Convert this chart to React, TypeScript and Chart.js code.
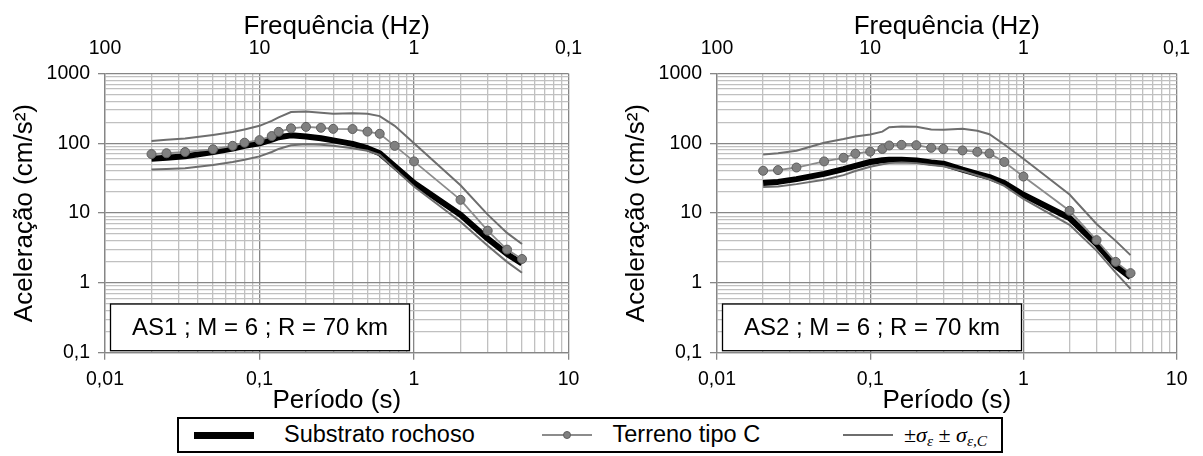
import React, { useEffect, useRef } from "react";
import { Chart, registerables } from "chart.js";

Chart.register(...registerables);

// ---------- data ----------
const PERIODS = [0.02, 0.025, 0.033, 0.05, 0.067, 0.08, 0.1, 0.12, 0.133, 0.16, 0.2, 0.25, 0.3, 0.4, 0.5, 0.6, 0.75, 1, 2, 3, 4, 5];

const AS1_ROCK = [60, 62, 65, 75, 84, 92, 100, 113, 122, 130, 125, 118, 110, 98, 85, 72, 47, 27, 9.5, 4.3, 2.6, 1.9];
const AS1_SOILC = [70, 72, 75, 82, 92, 102, 111, 127, 146, 164, 172, 167, 161, 160, 147, 137, 92, 55, 15.5, 5.6, 3.0, 2.2];
const AS1_UPPER = [108, 112, 117, 132, 145, 158, 178, 210, 235, 280, 285, 275, 265, 270, 265, 245, 178, 100, 25, 9.5, 5.2, 3.6];
const AS1_LOWER = [42, 43, 44, 49, 54, 58, 65, 75, 83, 94, 97, 95, 92, 85, 78, 68, 43, 24, 7.5, 3.4, 2.0, 1.4];

const AS2_ROCK = [27, 28, 30.7, 36.5, 42.7, 47.6, 54, 57, 58, 58, 56.8, 53, 51, 42, 36.6, 32.8, 27, 18.3, 8.5, 3.6, 1.75, 1.2];
const AS2_SOILC = [40.4, 41.3, 45, 55, 62, 71, 76, 83, 93, 95, 94, 86, 83, 79, 75.5, 71.5, 54, 33.4, 10.8, 4.1, 2.0, 1.38];
const AS2_UPPER = [69, 72, 78, 102, 115, 125, 134, 147, 170, 174, 172, 158, 156, 162, 151, 135, 96, 60, 18.5, 7, 4.0, 2.5];
const AS2_LOWER = [23.6, 24, 26, 30, 35, 40, 46, 50, 52, 53, 52, 49, 47, 40, 34.5, 30.5, 24.5, 16, 6.8, 2.9, 1.4, 0.82];

const X_DECADES = [0.01, 0.1, 1, 10];
const Y_DECADES = [0.1, 1, 10, 100, 1000];
const MANTISSAS = [1, 2, 3, 4, 5, 6, 7, 8, 9];

const LABEL_ROCK = "Substrato rochoso";
const LABEL_SOIL = "Terreno tipo C";
const TITLE_X = "Período (s)";
const TITLE_X2 = "Frequência (Hz)";
const TITLE_Y = "Aceleração (cm/s²)";
const NOTE_1 = "AS1 ; M = 6 ; R = 70 km";
const NOTE_2 = "AS2 ; M = 6 ; R = 70 km";

// ---------- helpers ----------
const FONT = '"Liberation Sans", Arial, sans-serif';
const MAJOR = "#868686";
const MINOR = "#c0c0c0";

function gridValues(decades: number[]): number[] {
  const out: number[] = [];
  for (let i = 0; i < decades.length - 1; i++) {
    for (const m of MANTISSAS) out.push(Number((m * decades[i]).toPrecision(6)));
  }
  out.push(decades[decades.length - 1]);
  return out;
}
const X_GRID = gridValues(X_DECADES);
const Y_GRID = gridValues(Y_DECADES);

function isDecade(v: number): boolean {
  if (!(v > 0)) return false;
  const l = Math.log10(v);
  return Math.abs(l - Math.round(l)) < 1e-6;
}
function fmt(v: number): string {
  if (v >= 1) return String(Math.round(v));
  return String(Number(v.toPrecision(3))).replace(".", ",");
}

const CANVAS_H = 416;
const PLOT_TOP = 73.5;
const PLOT_BOTTOM = 352.7;
const Y_AXIS_W = 105;
const PLOT_W = 463.5;

const notePlugin = {
  id: "note",
  afterDatasetsDraw(chart: any, _args: any, opts: any) {
    const { ctx, chartArea } = chart;
    const x = chartArea.left + 5.5;
    const y = chartArea.bottom - 48.7;
    const w = 299;
    const h = 46.7;
    ctx.save();
    ctx.fillStyle = "#ffffff";
    ctx.fillRect(x, y, w, h);
    ctx.strokeStyle = "#000000";
    ctx.lineWidth = 1.3;
    ctx.strokeRect(x, y, w, h);
    ctx.fillStyle = "#000000";
    ctx.font = `24px ${FONT}`;
    ctx.textAlign = "center";
    ctx.textBaseline = "middle";
    ctx.fillText(opts.text, x + w / 2, y + h / 2 + 1.5);
    ctx.restore();
  },
};

function pts(vals: number[]) {
  return PERIODS.map((p, i) => ({ x: p, y: vals[i] }));
}

const gridColor = (ctx: any) => (ctx && ctx.tick && isDecade(ctx.tick.value) ? MAJOR : MINOR);
const tickColor = (ctx: any) => (ctx && ctx.tick && isDecade(ctx.tick.value) ? MAJOR : "rgba(0,0,0,0)");

type Props = {
  left: number;
  width: number;
  note: string;
  rock: number[];
  soil: number[];
  upper: number[];
  lower: number[];
};

function SpectrumChart({ left, width, note, rock, soil, upper, lower }: Props) {
  const ref = useRef<HTMLCanvasElement>(null);
  useEffect(() => {
    const canvas = ref.current;
    if (!canvas) return;
    const chart = new Chart(canvas, {
      type: "line",
      data: {
        datasets: [
          {
            label: LABEL_SOIL,
            data: pts(soil),
            borderColor: "#8c8c8c",
            borderWidth: 1.8,
            pointRadius: 4.5,
            pointBackgroundColor: "#808080",
            pointBorderColor: "#5e5e5e",
            pointBorderWidth: 1,
            tension: 0,
            order: 0,
          },
          {
            label: "upper",
            data: pts(upper),
            borderColor: "#6e6e6e",
            borderWidth: 2,
            pointRadius: 0,
            tension: 0,
            order: 1,
          },
          {
            label: "lower",
            data: pts(lower),
            borderColor: "#6e6e6e",
            borderWidth: 2,
            pointRadius: 0,
            tension: 0,
            order: 2,
          },
          {
            label: LABEL_ROCK,
            data: pts(rock),
            borderColor: "#000000",
            borderWidth: 6,
            borderJoinStyle: "round",
            pointRadius: 0,
            tension: 0,
            order: 3,
          },
        ],
      },
      options: {
        responsive: false,
        animation: false,
        devicePixelRatio: 1,
        layout: { padding: { left: 0, top: 0, bottom: 0, right: width - Y_AXIS_W - PLOT_W } },
        plugins: {
          legend: { display: false },
          tooltip: { enabled: false },
          note: { text: note },
        } as any,
        scales: {
          x: {
            type: "logarithmic",
            position: "bottom",
            min: 0.01,
            max: 10,
            afterBuildTicks: (s: any) => {
              s.ticks = X_GRID.map((v) => ({ value: v }));
            },
            afterFit: (s: any) => {
              s.height = CANVAS_H - PLOT_BOTTOM;
            },
            ticks: {
              autoSkip: false,
              maxRotation: 0,
              minRotation: 0,
              padding: 8.6,
              color: "#000",
              font: { family: FONT, size: 19.5 },
              callback: (v: any) => (isDecade(Number(v)) ? fmt(Number(v)) : ""),
            },
            grid: { color: gridColor, tickColor: tickColor, lineWidth: 1.3, tickLength: 7, drawTicks: true },
            border: { display: true, color: MAJOR, width: 1.3 },
            title: {
              display: true,
              text: TITLE_X,
              color: "#000",
              font: { family: FONT, size: 26 },
              padding: { top: 0, bottom: 0 },
            },
          },
          x2: {
            type: "logarithmic",
            position: "top",
            min: 0.01,
            max: 10,
            afterBuildTicks: (s: any) => {
              s.ticks = X_DECADES.map((v) => ({ value: v }));
            },
            afterFit: (s: any) => {
              s.height = PLOT_TOP;
            },
            ticks: {
              autoSkip: false,
              maxRotation: 0,
              minRotation: 0,
              padding: 12.8,
              color: "#000",
              font: { family: FONT, size: 19.5 },
              callback: (v: any) => fmt(1 / Number(v)),
            },
            grid: { display: false, drawOnChartArea: false, drawTicks: false, tickLength: 0 },
            border: { display: false },
            title: {
              display: true,
              text: TITLE_X2,
              color: "#000",
              font: { family: FONT, size: 26 },
              padding: { top: 10.8, bottom: 0 },
            },
          },
          y: {
            type: "logarithmic",
            position: "left",
            min: 0.1,
            max: 1000,
            afterBuildTicks: (s: any) => {
              s.ticks = Y_GRID.map((v) => ({ value: v }));
            },
            afterFit: (s: any) => {
              s.width = Y_AXIS_W;
            },
            ticks: {
              autoSkip: false,
              padding: 8,
              color: "#000",
              font: { family: FONT, size: 19.5 },
              callback: (v: any) => (isDecade(Number(v)) ? fmt(Number(v)) : ""),
            },
            grid: { color: gridColor, tickColor: tickColor, lineWidth: 1.3, tickLength: 7, drawTicks: true },
            border: { display: true, color: MAJOR, width: 1.3 },
            title: {
              display: true,
              text: TITLE_Y,
              color: "#000",
              font: { family: FONT, size: 26 },
              padding: { top: 9, bottom: 0 },
            },
          },
        } as any,
      },
      plugins: [notePlugin as any],
    } as any);
    return () => chart.destroy();
  }, []);
  return (
    <canvas
      ref={ref}
      width={width}
      height={CANVAS_H}
      style={{ position: "absolute", left, top: 0, width, height: CANVAS_H }}
    />
  );
}

const LEG_TOP = 417;
const LEG_H = 36;

function LegendItem({ left, children }: { left: number; children: React.ReactNode }) {
  return (
    <div
      style={{
        position: "absolute",
        left,
        top: LEG_TOP,
        height: LEG_H,
        display: "flex",
        alignItems: "center",
        whiteSpace: "nowrap",
      }}
    >
      {children}
    </div>
  );
}

export default function App() {
  const txt: React.CSSProperties = { fontFamily: FONT, fontSize: 23.5, color: "#000", lineHeight: 1 };
  const serif: React.CSSProperties = {
    fontFamily: '"Liberation Serif", "DejaVu Serif", serif',
    fontSize: 22,
    color: "#000",
    lineHeight: 1,
  };
  const sub: React.CSSProperties = { fontSize: "0.7em", position: "relative", top: 4, lineHeight: 1 };
  return (
    <div style={{ position: "absolute", left: 0, top: 0, width: 1203, height: 456, background: "#fff", overflow: "hidden" }}>
      <SpectrumChart left={0} width={600} note={NOTE_1} rock={AS1_ROCK} soil={AS1_SOILC} upper={AS1_UPPER} lower={AS1_LOWER} />
      <SpectrumChart left={612} width={591} note={NOTE_2} rock={AS2_ROCK} soil={AS2_SOILC} upper={AS2_UPPER} lower={AS2_LOWER} />
      <div
        style={{
          position: "absolute",
          left: 177,
          top: LEG_TOP,
          width: 826,
          height: LEG_H,
          border: "2px solid #000",
          boxSizing: "border-box",
          background: "#fff",
        }}
      />
      <LegendItem left={194}>
        <div style={{ width: 60, height: 7, background: "#000" }} />
      </LegendItem>
      <LegendItem left={284}>
        <span style={txt}>{LABEL_ROCK}</span>
      </LegendItem>
      <LegendItem left={542}>
        <div style={{ position: "relative", width: 50, height: 10 }}>
          <div style={{ position: "absolute", left: 0, top: 4, width: 50, height: 2, background: "#8c8c8c" }} />
          <div
            style={{
              position: "absolute",
              left: 21,
              top: 1,
              width: 8,
              height: 8,
              borderRadius: "50%",
              background: "#808080",
              border: "1px solid #5e5e5e",
              boxSizing: "border-box",
            }}
          />
        </div>
      </LegendItem>
      <LegendItem left={612.5}>
        <span style={txt}>{LABEL_SOIL}</span>
      </LegendItem>
      <LegendItem left={843}>
        <div style={{ width: 50, height: 2, background: "#6e6e6e" }} />
      </LegendItem>
      <LegendItem left={904}>
        <span style={serif}>
          ±<i>σ</i>
          <i style={sub}>ε</i>
          {" ± "}
          <i>σ</i>
          <i style={sub}>ε,C</i>
        </span>
      </LegendItem>
    </div>
  );
}
